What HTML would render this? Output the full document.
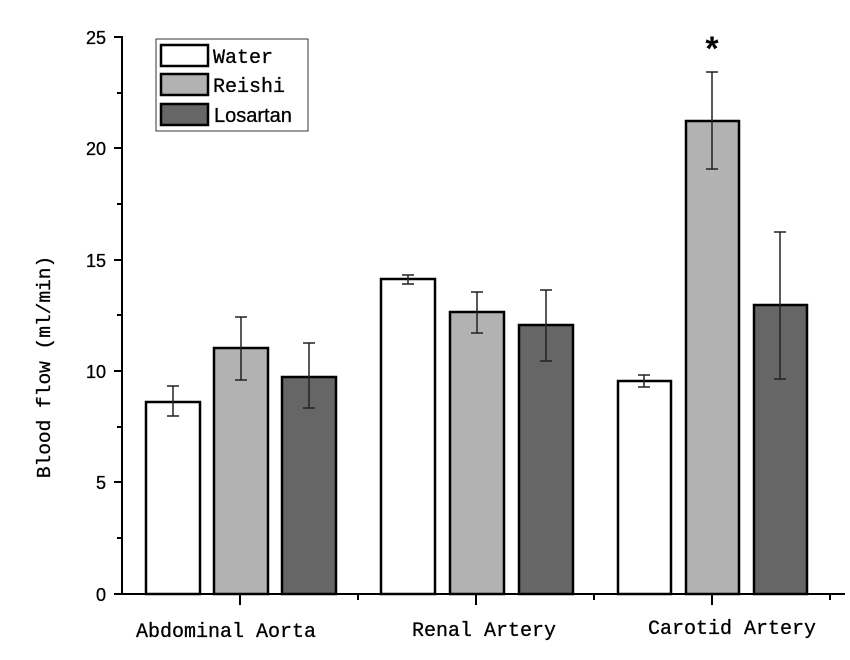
<!DOCTYPE html>
<html><head><meta charset="utf-8"><style>body{margin:0;background:#fff}svg{display:block}</style></head><body>
<svg width="850" height="660" xmlns="http://www.w3.org/2000/svg">
<rect width="850" height="660" fill="#fff"/>
<g stroke="#000" stroke-width="2.5">
<rect x="146" y="402" width="54" height="192" fill="#fff"/>
<rect x="214" y="348" width="54" height="246" fill="#b2b2b2"/>
<rect x="282" y="377" width="54" height="217" fill="#666"/>
<rect x="381" y="279" width="54" height="315" fill="#fff"/>
<rect x="450" y="312" width="54" height="282" fill="#b2b2b2"/>
<rect x="519" y="325" width="54" height="269" fill="#666"/>
<rect x="618" y="381" width="53" height="213" fill="#fff"/>
<rect x="686" y="121" width="53" height="473" fill="#b2b2b2"/>
<rect x="754" y="305" width="53" height="289" fill="#666"/>
</g>
<g stroke="#222" stroke-width="1.5">
<path d="M173 386V416M167 386H179M167 416H179"/>
<path d="M241 317V380M235 317H247M235 380H247"/>
<path d="M309 343V408M303 343H315M303 408H315"/>
<path d="M408 275V284M402 275H414M402 284H414"/>
<path d="M477 292V333M471 292H483M471 333H483"/>
<path d="M546 290V361M540 290H552M540 361H552"/>
<path d="M644 375V387M638 375H650M638 387H650"/>
<path d="M712 72V169M706 72H718M706 169H718"/>
<path d="M780 232V379M774 232H786M774 379H786"/>
</g>
<g stroke="#000" stroke-width="2" fill="none">
<path d="M122 36V595M121 594H845"/>
<path d="M114 37H122M114 148H122M114 260H122M114 371H122M114 482H122M114 594H122"/>
<path d="M117 93H122M117 204H122M117 315H122M117 427H122M117 538H122"/>
<path d="M240 594V605M476 594V605M712 594V605"/>
<path d="M358 594V600M594 594V600M830 594V600"/>
</g>
<g font-family="Liberation Sans, sans-serif" font-size="18" text-anchor="end" stroke="#000" stroke-width="0.3">
<text x="106" y="44">25</text><text x="106" y="155">20</text><text x="106" y="267">15</text>
<text x="106" y="378">10</text><text x="106" y="489">5</text><text x="106" y="601">0</text>
</g>
<g font-family="Liberation Mono, monospace" font-size="20" text-anchor="middle" stroke="#000" stroke-width="0.3">
<text x="226" y="637">Abdominal Aorta</text>
<text x="484" y="636">Renal Artery</text>
<text x="732" y="634">Carotid Artery</text>
<text transform="translate(50 367) rotate(-90)" font-size="19.5">Blood flow (ml/min)</text>
</g>
<text x="712" y="60" font-family="Liberation Sans, sans-serif" font-size="34" font-weight="bold" text-anchor="middle">*</text>
<rect x="156" y="39" width="152" height="92" fill="#fff" stroke="#333" stroke-width="1"/>
<g stroke="#000" stroke-width="2.5">
<rect x="161" y="45" width="47" height="21" fill="#fff"/>
<rect x="161" y="74" width="47" height="21" fill="#b2b2b2"/>
<rect x="161" y="104" width="47" height="21" fill="#666"/>
</g>
<g stroke="#000" stroke-width="0.3">
<text x="213" y="63" font-family="Liberation Mono, monospace" font-size="20">Water</text>
<text x="213" y="92" font-family="Liberation Mono, monospace" font-size="20">Reishi</text>
<text x="214" y="122" font-family="Liberation Sans, sans-serif" font-size="20">Losartan</text>
</g>
</svg>
</body></html>
